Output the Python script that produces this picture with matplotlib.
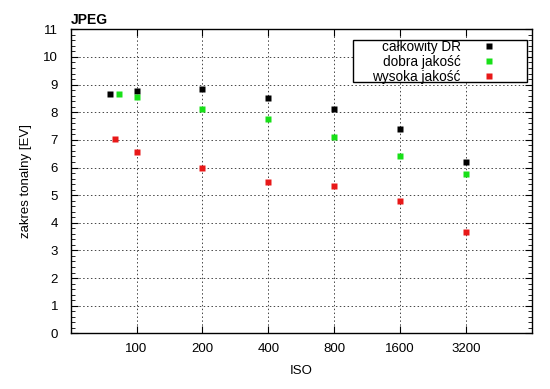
import matplotlib
matplotlib.use("Agg")
import matplotlib.pyplot as plt
from matplotlib.patches import Rectangle
from matplotlib.ticker import FixedLocator, NullLocator, MultipleLocator, NullFormatter

plt.rcParams['font.family'] = ['Liberation Sans', 'DejaVu Sans']

# data
iso_dr = [76, 100, 200, 400, 800, 1600, 3200]
val_dr = [8.66, 8.75, 8.85, 8.52, 8.13, 7.40, 6.20]
iso_good = [83, 100, 200, 400, 800, 1600, 3200]
val_good = [8.66, 8.56, 8.13, 7.74, 7.09, 6.41, 5.76]
iso_high = [80, 100, 200, 400, 800, 1600, 3200]
val_high = [7.04, 6.55, 5.99, 5.46, 5.34, 4.78, 3.68]
xticks = [100, 200, 400, 800, 1600, 3200]
labels = ['całkowity DR', 'dobra jakość', 'wysoka jakość']

fig = plt.figure(figsize=(5.5, 3.89), dpi=100)
ax = fig.add_axes([0.1285, 0.143, 0.8382, 0.7817])

ms = 5
ax.plot(iso_dr, val_dr, 's', color='black', ms=ms, mec='none', label=labels[0], zorder=3)
ax.plot(iso_good, val_good, 's', color='#18e018', ms=ms, mec='none', label=labels[1], zorder=3)
ax.plot(iso_high, val_high, 's', color='#e81818', ms=ms, mec='none', label=labels[2], zorder=3)

ax.set_xscale('log')
ax.set_xlim(50, 6400)
ax.set_ylim(0, 11)
ax.xaxis.set_major_locator(FixedLocator(xticks))
ax.xaxis.set_minor_locator(NullLocator())
ax.xaxis.set_minor_formatter(NullFormatter())
ax.set_xticklabels([str(t) for t in xticks])
ax.yaxis.set_major_locator(MultipleLocator(1))
ax.yaxis.set_minor_locator(MultipleLocator(0.2))

ax.tick_params(which='both', direction='in', top=True, right=True, labelsize=9.5)
ax.tick_params(axis='x', which='major', pad=7)
ax.tick_params(axis='y', which='major', pad=9)
ax.tick_params(which='major', length=5, width=0.8)
ax.tick_params(which='minor', length=3, width=0.6)
for s in ax.spines.values():
    s.set_linewidth(1.0)

ax.grid(True, which='major', linestyle=(0, (1.5, 2.5)), color='#444444', linewidth=0.7)

ax.set_xlabel('ISO', fontsize=9.5, labelpad=7)
ax.set_ylabel('zakres tonalny [EV]', fontsize=9.5, labelpad=8)
ax.set_title('JPEG', fontsize=10, fontweight='bold', loc='left', pad=4, x=0.0)

# legend frame
ax.add_patch(Rectangle((0.612, 0.828), 0.377, 0.137, transform=ax.transAxes,
                       facecolor='white', edgecolor='black', linewidth=1.0, zorder=4))
leg = ax.legend(loc='upper right', bbox_to_anchor=(0.948, 0.972), borderaxespad=0,
                markerfirst=False, frameon=False,
                fontsize=9.8, borderpad=0.15, labelspacing=0.08, handlelength=2.5,
                handletextpad=0.8, numpoints=1, markerscale=1.0)
leg.set_zorder(5)

fig.savefig('out.png', dpi=100)
